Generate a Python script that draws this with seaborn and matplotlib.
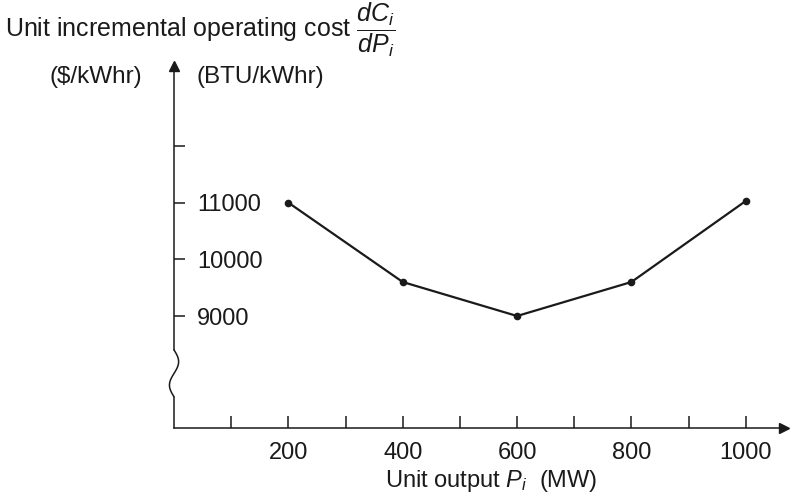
import numpy as np
import matplotlib
matplotlib.use("Agg")
import matplotlib.pyplot as plt
import seaborn as sns
import pandas as pd

# values
unit_output_mw = [200, 400, 600, 800, 1000]
incremental_cost = [11000, 9600, 9000, 9600, 11030]

x_ticks = [100, 200, 300, 400, 500, 600, 700, 800, 900, 1000]
x_tick_labels = ["", "200", "", "400", "", "600", "", "800", "", "1000"]
y_ticks = [9000, 10000, 11000, 12000]
y_tick_labels = ["9000", "10000", "11000", ""]

df = pd.DataFrame({"P": unit_output_mw, "cost": incremental_cost})

sns.set_theme(style="white")
plt.rcParams["font.family"] = ["Liberation Sans", "DejaVu Sans"]
plt.rcParams["mathtext.fontset"] = "custom"
plt.rcParams["mathtext.rm"] = "Liberation Sans"
plt.rcParams["mathtext.it"] = "Liberation Sans:italic"

ink = "#1a1a1a"

fig = plt.figure(figsize=(7.9, 4.95), dpi=100)
ax = fig.add_axes([0.2203, 0.1354, 0.7722, 0.7313])

sns.lineplot(data=df, x="P", y="cost", ax=ax, color=ink, linewidth=1.6,
             marker="o", markersize=5.5, markeredgewidth=0, markerfacecolor=ink)

ax.set_xlim(0, 1067)
ax.set_ylim(7024, 13412)

ax.set_xticks(x_ticks)
ax.set_xticklabels(x_tick_labels, fontsize=17, color=ink)
ax.set_yticks(y_ticks)
ax.set_yticklabels(y_tick_labels, fontsize=17, color=ink)
ax.tick_params(axis="x", bottom=True, direction="in", length=8.5, width=1.1, color=ink, pad=10)
ax.tick_params(axis="y", left=True, direction="in", length=8, width=1.1, color=ink, pad=-16.5)
plt.setp(ax.get_yticklabels(), ha="left")

ax.set_xlabel(r"Unit output $P_i$  (MW)", fontsize=17, color=ink)
ax.xaxis.set_label_coords(0.52, -0.11)
ax.set_ylabel("")

# axes lines: bottom spine, left spine broken by a squiggle
for s in ["top", "right", "left"]:
    ax.spines[s].set_visible(False)
ax.spines["bottom"].set_color(ink)
ax.spines["bottom"].set_linewidth(1.1)

kw = dict(transform=ax.transAxes, clip_on=False, color=ink, lw=1.1)
ax.plot([0, 0], [0, 0.086], **kw)
ax.plot([0, 0], [0.2155, 0.985], **kw)
t = np.linspace(0, 1, 60)
ax.plot(0.0075 * np.sin(2 * np.pi * t), 0.2155 - t * (0.2155 - 0.086), **kw)

# arrowheads at the axis ends
ax.plot(0, 1, marker="^", markersize=7, color=ink, transform=ax.transAxes, clip_on=False)
ax.plot(1, 0, marker=">", markersize=7, color=ink, transform=ax.transAxes, clip_on=False)

# title and unit labels
fig.text(0.006, 1 - 30 / 495, r"Unit incremental operating cost $\dfrac{dC_i}{dP_i}$",
         fontsize=18, color=ink, ha="left", va="center")
fig.text(96 / 790, 1 - 77 / 495, r"(\$/kWhr)", fontsize=17.5, color=ink,
         ha="center", va="center")
fig.text(196 / 790, 1 - 77 / 495, "(BTU/kWhr)", fontsize=17.5, color=ink,
         ha="left", va="center")

fig.savefig("out.png", dpi=100)
